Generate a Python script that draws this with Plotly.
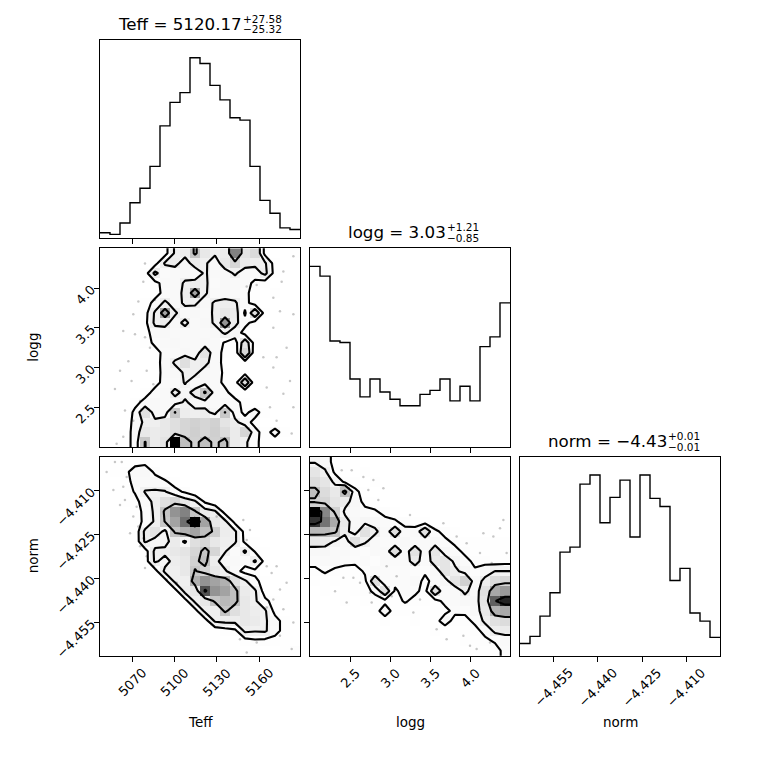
import numpy as np
import plotly.graph_objects as go
from plotly.subplots import make_subplots

# parameter ranges (histogram extent = axis extent)
teff_range = [5047.2, 5189.0]
logg_range = [2.0, 4.5]
norm_range = [-4.4664, -4.3986]

teff_ticks = [5070, 5100, 5130, 5160]
logg_ticks = [2.5, 3.0, 3.5, 4.0]
norm_ticks = [-4.455, -4.440, -4.425, -4.410]
teff_ticktext = ["5070", "5100", "5130", "5160"]
logg_ticktext = ["2.5", "3.0", "3.5", "4.0"]
norm_ticktext = ["\u22124.455", "\u22124.440", "\u22124.425", "\u22124.410"]

# 1D marginal histograms (20 bins)
teff_counts = [7, 5, 19, 44, 62, 89, 139, 168, 180, 223, 216, 189, 171, 149, 146, 89, 47, 31, 13, 11]
logg_counts = [223, 211, 131, 129, 84, 62, 84, 68, 59, 51, 51, 65, 70, 84, 57, 75, 57, 124, 136, 178]
norm_counts = [12, 19, 39, 62, 102, 107, 169, 178, 131, 156, 173, 117, 178, 155, 147, 74, 86, 42, 34, 18]

# 2D histograms, 20x20, rows listed from the top of the panel (high y) down
teff_logg_hist = [
    [0, 0, 0, 0, 0, 0.3, 0.4, 2.4, 2.6, 4.8, 3.0, 2.4, 2.8, 7.0, 3.2, 3.8, 0.5, 0, 0, 0.3],
    [0, 0, 0, 0, 0, 0.4, 2.4, 2.6, 1.6, 2.8, 2.4, 1.5, 3.0, 4.0, 2.8, 2.6, 2.4, 0.3, 0, 0],
    [0, 0, 0, 0, 0.3, 2.6, 1.3, 1.5, 1.6, 1.4, 2.4, 1.4, 1.6, 2.4, 1.5, 1.5, 2.6, 0.4, 0, 0],
    [0, 0, 0, 0, 0, 0.5, 1.4, 1.5, 2.4, 2.6, 2.5, 1.3, 1.6, 1.5, 1.4, 0.6, 0.3, 0, 0, 0],
    [0, 0, 0, 0, 0, 0.4, 1.3, 1.5, 2.6, 6.0, 2.4, 1.4, 1.6, 1.5, 1.2, 0.4, 0, 0.3, 0, 0],
    [0, 0, 0, 0, 0.3, 1.3, 2.5, 1.5, 2.5, 2.4, 1.6, 2.4, 2.6, 2.4, 1.3, 0.3, 0, 0, 0, 0],
    [0, 0, 0, 0, 0.4, 2.4, 6.0, 2.4, 1.5, 1.6, 1.5, 2.5, 3.0, 2.8, 0.7, 3.5, 0.3, 0, 0, 0],
    [0, 0, 0, 0, 0.5, 2.5, 2.6, 1.6, 2.6, 1.4, 1.6, 2.4, 6.5, 2.6, 1.3, 0.4, 0, 0, 0, 0],
    [0, 0, 0, 0, 0.4, 1.5, 1.6, 1.5, 1.4, 1.4, 1.5, 1.6, 2.4, 1.6, 0.4, 0, 0, 0, 0, 0],
    [0, 0, 0, 0, 0.3, 1.2, 1.5, 1.6, 1.4, 1.5, 1.6, 1.4, 0.8, 0.3, 3.2, 0.3, 0, 0, 0, 0],
    [0, 0, 0, 0, 0, 0.4, 1.3, 1.5, 1.6, 1.5, 3.2, 1.4, 0.6, 0, 4.0, 0, 0, 0, 0, 0],
    [0, 0, 0, 0, 0, 0.4, 1.4, 2.4, 3.5, 2.5, 2.6, 1.5, 0.5, 0, 0.3, 0, 0, 0, 0, 0],
    [0, 0, 0, 0, 0, 0.3, 1.4, 1.6, 2.4, 2.5, 1.6, 1.4, 0.7, 0, 0.4, 0, 0, 0, 0, 0],
    [0, 0, 0, 0, 0, 0.5, 1.3, 1.5, 2.3, 1.5, 1.6, 1.4, 0.6, 0.3, 3.5, 0, 0, 0, 0, 0],
    [0, 0, 0, 0, 0.4, 1.3, 1.5, 2.6, 1.8, 2.6, 4.8, 1.4, 1.2, 0.3, 0, 0, 0, 0, 0, 0],
    [0, 0, 0, 0.5, 1.3, 1.6, 1.5, 1.6, 2.4, 1.7, 1.6, 1.5, 1.4, 1.3, 0.5, 0, 0, 0, 0, 0],
    [0, 0, 0, 1.2, 3.5, 1.6, 1.5, 4.6, 2.6, 2.5, 2.6, 1.7, 4.6, 1.5, 0.6, 1.4, 0.3, 0, 0, 0],
    [0, 0, 0, 1.4, 2.5, 2.5, 3.0, 3.5, 4.0, 4.2, 4.0, 4.2, 3.2, 2.6, 1.4, 0.5, 0, 0, 0, 0],
    [0, 0, 0, 1.6, 3.0, 2.8, 3.0, 3.5, 4.0, 4.3, 4.0, 4.3, 3.6, 2.8, 4.0, 1.3, 0.4, 1.4, 0.3, 0],
    [0, 0, 0.4, 1.3, 4.6, 2.8, 3.2, 10, 5.0, 4.2, 5.0, 4.2, 5.0, 2.8, 2.5, 1.2, 0.4, 0.3, 0, 0],
]

teff_norm_hist = [
    [0, 0.4, 0.5, 0.5, 0.6, 0, 0, 0, 0, 0, 0, 0, 0, 0, 0, 0, 0, 0, 0, 0],
    [0, 0.3, 0.6, 1.4, 1.6, 0.7, 0, 0, 0, 0, 0, 0, 0, 0, 0, 0, 0, 0, 0, 0],
    [0, 0, 0.4, 1.3, 1.5, 1.4, 1.1, 0.4, 0, 0, 0, 0, 0, 0, 0, 0, 0, 0, 0, 0],
    [0, 0, 0.3, 1.0, 2.3, 2.4, 2.3, 1.3, 0.7, 0, 0, 0, 0, 0, 0, 0, 0, 0, 0, 0],
    [0, 0, 0.3, 0.5, 1.5, 2.6, 3.5, 4.0, 3.0, 2.4, 0.7, 0, 0, 0, 0, 0, 0, 0, 0, 0],
    [0, 0, 0, 0.4, 1.2, 2.5, 4.8, 6.5, 7.0, 4.7, 2.8, 2.4, 0.4, 0, 0, 0, 0, 0, 0, 0],
    [0, 0, 0, 0.3, 1.2, 2.4, 4.6, 6.0, 7.5, 10, 6.0, 3.0, 2.5, 0.5, 0, 0, 0, 0, 0, 0],
    [0, 0, 0, 0, 2.5, 3.2, 1.8, 4.8, 5.5, 6.0, 5.0, 4.3, 2.6, 2.4, 0.5, 0, 0, 0, 0, 0],
    [0, 0, 0, 0, 2.4, 1.6, 1.8, 2.8, 2.0, 3.5, 4.0, 3.0, 2.5, 2.4, 0.6, 0.3, 0, 0, 0, 0],
    [0, 0, 0, 0, 0.3, 2.5, 2.5, 3.0, 3.2, 4.0, 4.8, 4.0, 2.3, 1.3, 2.4, 0.8, 0.3, 0, 0, 0],
    [0, 0, 0, 0, 0.3, 2.4, 1.8, 2.6, 3.0, 4.2, 5.0, 2.6, 1.5, 1.4, 1.3, 2.4, 0.5, 0, 0, 0],
    [0, 0, 0, 0, 0, 0.4, 2.5, 2.5, 3.0, 4.6, 4.0, 3.0, 2.4, 1.3, 0.5, 0.6, 0, 0, 0, 0],
    [0, 0, 0, 0, 0, 0, 0.4, 2.5, 2.5, 5.5, 6.5, 6.0, 5.5, 3.5, 2.4, 1.2, 0.4, 0, 0, 0],
    [0, 0, 0, 0, 0, 0, 0, 0.4, 2.6, 3.0, 8.3, 6.5, 6.0, 5.0, 2.8, 2.4, 0.3, 0, 0, 0],
    [0, 0, 0, 0, 0, 0, 0, 0, 0.4, 2.5, 3.0, 4.8, 5.2, 5.0, 3.0, 2.4, 1.2, 0.4, 0, 0],
    [0, 0, 0, 0, 0, 0, 0, 0, 0, 0.4, 2.5, 2.5, 4.8, 3.5, 3.0, 2.6, 2.4, 0.5, 0, 0],
    [0, 0, 0, 0, 0, 0, 0, 0, 0, 0, 0.3, 2.4, 2.6, 2.6, 3.0, 2.8, 2.4, 1.4, 0.4, 0],
    [0, 0, 0, 0, 0, 0, 0, 0, 0, 0, 0, 0, 0.3, 0.6, 2.5, 2.3, 2.4, 1.3, 0.5, 0],
    [0, 0, 0, 0, 0, 0, 0, 0, 0, 0, 0, 0, 0, 0, 0.4, 0.7, 0.6, 0.5, 0.3, 0],
    [0, 0, 0, 0, 0, 0, 0, 0, 0, 0, 0, 0, 0, 0, 0, 0.3, 0, 0, 0.5, 0.6],
]

logg_norm_hist = [
    [2.0, 1.5, 0.4, 0.2, 0, 0, 0, 0, 0, 0, 0, 0, 0, 0, 0, 0, 0, 0, 0, 0],
    [3.0, 2.3, 0.6, 0.2, 0, 0.3, 0, 0, 0, 0, 0, 0, 0, 0, 0, 0, 0, 0, 0, 0],
    [3.5, 3.0, 1.8, 0.6, 0.2, 0, 0.3, 0, 0, 0, 0, 0, 0, 0, 0, 0, 0, 0, 0, 0],
    [4.8, 3.5, 2.8, 4.8, 1.2, 0.3, 0, 0, 0, 0, 0, 0, 0, 0, 0, 0, 0, 0, 0, 0],
    [4.0, 3.8, 3.0, 2.6, 1.5, 0.5, 0.3, 0, 0, 0, 0, 0, 0, 0, 0, 0, 0, 0, 0, 0],
    [9.5, 6.5, 4.0, 1.8, 1.4, 1.2, 1.0, 0.5, 0.3, 0, 0, 0, 0, 0, 0, 0, 0, 0, 0, 0],
    [8.5, 7.0, 5.5, 2.6, 1.5, 1.8, 1.5, 1.2, 1.0, 0.5, 0.3, 0.3, 0, 0, 0, 0, 0, 0, 0, 0],
    [5.0, 5.0, 4.6, 2.4, 1.6, 3.2, 2.4, 1.3, 3.2, 1.2, 1.3, 3.2, 1.1, 0.5, 0.3, 0, 0, 0, 0, 0],
    [2.8, 2.6, 2.0, 1.5, 3.2, 2.3, 1.4, 1.2, 1.3, 1.5, 1.2, 1.4, 1.5, 1.1, 0.6, 0.4, 0.3, 0.3, 0.2, 0.3],
    [1.5, 1.6, 1.4, 1.3, 1.2, 1.1, 1.3, 1.4, 3.2, 1.4, 3.2, 1.3, 3.0, 1.5, 1.2, 0.6, 0.4, 0.3, 0.4, 0.3],
    [1.2, 1.3, 1.4, 1.2, 1.1, 1.2, 1.0, 1.3, 1.2, 1.4, 2.8, 1.2, 2.8, 3.0, 1.8, 1.2, 0.6, 0.5, 0.3, 0.4],
    [0.6, 1.0, 0.6, 0.4, 0.4, 1.0, 1.2, 1.2, 1.1, 1.2, 1.1, 1.0, 1.3, 3.0, 2.4, 1.6, 1.0, 1.5, 2.1, 2.1],
    [0.2, 0.3, 0.3, 0.3, 0.4, 0.6, 3.2, 1.2, 1.1, 1.2, 1.3, 0.6, 1.2, 1.6, 3.0, 4.0, 1.3, 2.5, 3.5, 3.8],
    [0, 0.2, 0, 0.3, 0.2, 0.5, 1.1, 3.2, 0.7, 1.2, 1.1, 0.5, 3.2, 1.2, 1.3, 2.4, 1.4, 3.2, 5.5, 6.0],
    [0, 0, 0, 0.2, 0, 0.3, 0.4, 0.5, 0.4, 1.0, 0.5, 0.3, 0.4, 1.2, 1.3, 1.5, 1.6, 3.0, 7.5, 8.8],
    [0, 0, 0, 0, 0, 0, 0.3, 1.6, 0.3, 0.2, 0.3, 0, 0.3, 0.5, 1.2, 1.1, 1.5, 2.8, 5.2, 5.5],
    [0, 0, 0, 0, 0, 0, 0, 0.2, 0, 0, 0.3, 0, 0.3, 1.6, 0.3, 0.5, 1.1, 2.4, 3.2, 3.5],
    [0, 0, 0, 0, 0, 0, 0, 0, 0, 0, 0, 0, 0.3, 0, 0, 0.3, 0.5, 1.2, 2.4, 2.6],
    [0, 0, 0, 0, 0, 0, 0, 0, 0, 0, 0, 0, 0, 0, 0, 0.2, 0.3, 0.6, 1.0, 1.4],
    [0, 0, 0, 0, 0, 0, 0, 0, 0, 0, 0, 0, 0, 0, 0, 0, 0.3, 0.2, 0.4, 1.2],
]

# scattered samples outside the contours
pts_a_teff = [5079.1, 5077.9, 5074.4, 5086.2, 5070.8, 5063.7, 5072.0, 5079.1, 5082.6, 5067.3, 5061.4, 5069.6,
              5057.8, 5075.6, 5064.9, 5070.8, 5063.7, 5059.0, 5151.2, 5158.3, 5170.1, 5177.2, 5174.8, 5170.1,
              5184.3, 5163.0, 5172.4, 5170.1, 5181.9, 5177.2, 5167.7, 5184.3, 5172.4, 5183.1, 5184.3, 5176.0,
              5179.5, 5165.4, 5080.3, 5085.0]
pts_a_logg = [4.31, 4.08, 3.83, 3.85, 3.67, 3.46, 3.42, 3.38, 3.25, 3.08, 2.96, 2.83,
              2.73, 2.58, 2.46, 2.33, 2.13, 2.04, 4.02, 4.04, 3.88, 4.21, 3.71, 3.50,
              3.67, 3.13, 3.13, 3.00, 2.83, 2.67, 2.50, 2.50, 2.33, 2.17, 4.40, 4.08,
              3.25, 2.75, 2.96, 2.79]

pts_b_teff = [5057.8, 5062.6, 5051.9, 5066.1, 5056.7, 5063.7, 5064.9, 5073.2, 5061.4, 5070.8, 5074.4, 5068.5,
              5077.9, 5075.6, 5080.3, 5085.0, 5079.1, 5094.5, 5101.6, 5148.8, 5153.5, 5151.2, 5165.4, 5172.4,
              5168.9, 5179.5, 5174.8, 5170.1, 5177.2, 5165.4, 5184.3, 5174.8, 5158.3, 5146.4, 5151.2, 5183.1,
              5129.9]
pts_b_norm = [-4.4003, -4.4003, -4.4037, -4.4054, -4.4099, -4.4088, -4.4133, -4.4156, -4.4150, -4.4189, -4.4223,
              -4.4246, -4.4263, -4.4291, -4.4325, -4.4359, -4.4365, -4.4404, -4.4415, -4.4201, -4.4235, -4.4269,
              -4.4359, -4.4359, -4.4382, -4.4415, -4.4438, -4.4472, -4.4506, -4.4500, -4.4551, -4.4596, -4.4619,
              -4.4608, -4.4653, -4.4641, -4.4189]

pts_c_logg = [2.396, 2.521, 2.667, 2.792, 2.729, 2.917, 2.854, 3.250, 3.000, 3.667, 3.833, 3.958, 4.167,
              4.292, 4.375, 4.125, 4.271, 4.458, 2.417, 2.542, 2.313, 2.458, 2.625, 2.750, 2.771, 3.021,
              3.208, 3.375, 3.583, 3.708, 3.917, 4.083, 4.250, 4.000, 3.292, 3.083, 2.958, 4.417]
pts_c_norm = [-4.4031, -4.4031, -4.4054, -4.4065, -4.4099, -4.4093, -4.4133, -4.4184, -4.4195, -4.4212,
              -4.4257, -4.4280, -4.4246, -4.4257, -4.4229, -4.4314, -4.4348, -4.4314, -4.4398, -4.4398,
              -4.4444, -4.4483, -4.4415, -4.4449, -4.4483, -4.4461, -4.4483, -4.4472, -4.4574, -4.4608,
              -4.4596, -4.4641, -4.4619, -4.4630, -4.4517, -4.4393, -4.4359, -4.4201]

titles = [("Teff = 5120.17", "+27.58", "\u221225.32"),
          ("logg = 3.03", "+1.21", "\u22120.85"),
          ("norm = \u22124.43", "+0.01", "\u22120.01")]

# contour thresholds as fractions of the peak cell
CONTOUR_FRACS = [0.09, 0.22, 0.45, 0.8]
FONT = "DejaVu Sans"


def centers(rng, n=20):
    e = np.linspace(rng[0], rng[1], n + 1)
    return 0.5 * (e[1:] + e[:-1])


def padded(H, cx, cy):
    # extend the grid past the edges (as corner does) so lines run out of the frame
    H2 = H.min() + np.zeros((H.shape[0] + 4, H.shape[1] + 4))
    H2[2:-2, 2:-2] = H
    H2[2:-2, 1] = H[:, 0]
    H2[2:-2, -2] = H[:, -1]
    H2[1, 2:-2] = H[0]
    H2[-2, 2:-2] = H[-1]
    H2[1, 1] = H[0, 0]
    H2[1, -2] = H[0, -1]
    H2[-2, 1] = H[-1, 0]
    H2[-2, -2] = H[-1, -1]
    dx = cx[1] - cx[0]
    dy = cy[1] - cy[0]
    x2 = np.concatenate([cx[0] + np.array([-2, -1]) * dx, cx, cx[-1] + np.array([1, 2]) * dx])
    y2 = np.concatenate([cy[0] + np.array([-2, -1]) * dy, cy, cy[-1] + np.array([1, 2]) * dy])
    return H2, x2, y2


# black->transparent density map over white paper: brightness = 1 - t^2
gray_scale = []
for i in range(11):
    t = i / 10
    g = int(round(255 * (1 - t ** 2)))
    gray_scale.append([t, f"rgb({g},{g},{g})"])

fig = make_subplots(rows=3, cols=3,
                    specs=[[{}, None, None], [{}, {}, None], [{}, {}, {}]])


def add_hist(counts, rng, row, col):
    edges = np.linspace(rng[0], rng[1], len(counts) + 1)
    fig.add_trace(go.Scatter(x=edges, y=list(counts) + [counts[-1]], mode="lines",
                             line=dict(color="black", width=1.4, shape="hv"),
                             hoverinfo="skip", showlegend=False), row=row, col=col)
    fig.update_yaxes(range=[0, 1.1 * max(counts)], row=row, col=col)


def add_2d(rows_top_down, xr, yr, px, py, row, col):
    H = np.flipud(np.array(rows_top_down, dtype=float))
    cx, cy = centers(xr), centers(yr)
    fig.add_trace(go.Heatmap(x=cx, y=cy, z=H, zmin=0, zmax=H.max(), colorscale=gray_scale,
                             showscale=False, hoverinfo="skip"), row=row, col=col)
    fig.add_trace(go.Scatter(x=px, y=py, mode="markers",
                             marker=dict(size=2.5, color="rgba(0,0,0,0.22)"),
                             hoverinfo="skip", showlegend=False), row=row, col=col)
    H2, x2, y2 = padded(H, cx, cy)
    for f in CONTOUR_FRACS:
        v = f * H.max()
        fig.add_trace(go.Contour(x=x2, y=y2, z=H2, autocontour=False,
                                 contours=dict(start=v, end=v, size=1e6, coloring="none"),
                                 line=dict(color="black", width=2.1, smoothing=0),
                                 showscale=False, hoverinfo="skip"), row=row, col=col)
    fig.update_xaxes(range=xr, row=row, col=col)
    fig.update_yaxes(range=yr, row=row, col=col)


add_hist(teff_counts, teff_range, 1, 1)
add_hist(logg_counts, logg_range, 2, 2)
add_hist(norm_counts, norm_range, 3, 3)
add_2d(teff_logg_hist, teff_range, logg_range, pts_a_teff, pts_a_logg, 2, 1)
add_2d(teff_norm_hist, teff_range, norm_range, pts_b_teff, pts_b_norm, 3, 1)
add_2d(logg_norm_hist, logg_range, norm_range, pts_c_logg, pts_c_norm, 3, 2)
fig.update_xaxes(range=teff_range, row=1, col=1)
fig.update_xaxes(range=logg_range, row=2, col=2)
fig.update_xaxes(range=norm_range, row=3, col=3)

W = 760.0
col_dom = [[100 / W, 300 / W], [310 / W, 510 / W], [520 / W, 720 / W]]
row_dom = [[1 - 240 / W, 1 - 40 / W], [1 - 450 / W, 1 - 250 / W], [1 - 660 / W, 1 - 460 / W]]
x_ticks = [(teff_ticks, teff_ticktext), (logg_ticks, logg_ticktext), (norm_ticks, norm_ticktext)]

axis_style = dict(showline=True, linecolor="black", linewidth=1, mirror=True, showgrid=False,
                  zeroline=False, ticks="outside", ticklen=5, tickwidth=1, tickcolor="black",
                  tickfont=dict(family=FONT, size=13, color="black"), tickangle=-45)

for r in range(1, 4):
    for c in range(1, r + 1):
        tv, tt = x_ticks[c - 1]
        fig.update_xaxes(domain=col_dom[c - 1], tickvals=tv, ticktext=tt,
                         showticklabels=False, **axis_style, row=r, col=c)
        if r == c:
            fig.update_yaxes(domain=row_dom[r - 1], showline=True, linecolor="black", linewidth=1,
                             mirror=True, showgrid=False, zeroline=False, ticks="",
                             showticklabels=False, row=r, col=c)
        else:
            ytv, ytt = x_ticks[r - 1]
            fig.update_yaxes(domain=row_dom[r - 1], tickvals=ytv, ticktext=ytt,
                             showticklabels=(c == 1), **axis_style, row=r, col=c)

annotations = []
# bottom-row tick labels, centred under each tick like matplotlib's rotated labels
for c in range(1, 4):
    xref = fig.get_subplot(3, c).xaxis.plotly_name.replace("axis", "")
    tv, tt = x_ticks[c - 1]
    for v, s in zip(tv, tt):
        annotations.append(dict(text=s, x=v, xref=xref, y=1 - 667 / W, yref="paper",
                                xanchor="center", yanchor="top", textangle=-45, showarrow=False,
                                font=dict(family=FONT, size=13, color="black")))

title_split = [243.5, 448.0, 668.5]
title_base = [30, 240, 450]
for (main, up, lo), xs, yb in zip(titles, title_split, title_base):
    annotations.append(dict(text=main, x=xs / W, y=1 - (yb - 6) / W, xref="paper", yref="paper",
                            xanchor="right", yanchor="middle", showarrow=False,
                            font=dict(family=FONT, size=16.7, color="black")))
    annotations.append(dict(text=up, x=(xs - 3) / W, y=1 - (yb - 11) / W, xref="paper", yref="paper",
                            xanchor="left", yanchor="middle", showarrow=False,
                            font=dict(family=FONT, size=10.5, color="black")))
    annotations.append(dict(text=lo, x=(xs - 3) / W, y=1 - (yb - 0.5) / W, xref="paper", yref="paper",
                            xanchor="left", yanchor="middle", showarrow=False,
                            font=dict(family=FONT, size=10.5, color="black")))

for name, xc in zip(["Teff", "logg", "norm"], [200, 410, 620]):
    annotations.append(dict(text=name, x=xc / W, y=1 - 727 / W, xref="paper", yref="paper",
                            xanchor="center", yanchor="middle", showarrow=False,
                            font=dict(family=FONT, size=13.5, color="black")))
for name, yc in zip(["logg", "norm"], [350, 560]):
    annotations.append(dict(text=name, x=33 / W, y=1 - yc / W, xref="paper", yref="paper",
                            xanchor="center", yanchor="middle", showarrow=False, textangle=-90,
                            font=dict(family=FONT, size=13.5, color="black")))

fig.update_layout(width=760, height=760, margin=dict(l=0, r=0, t=0, b=0),
                  paper_bgcolor="white", plot_bgcolor="white", showlegend=False,
                  annotations=annotations, font=dict(family=FONT, color="black"))

fig.write_html("out.html", config={"displayModeBar": False},
               post_script="document.body.style.margin='0px';")
